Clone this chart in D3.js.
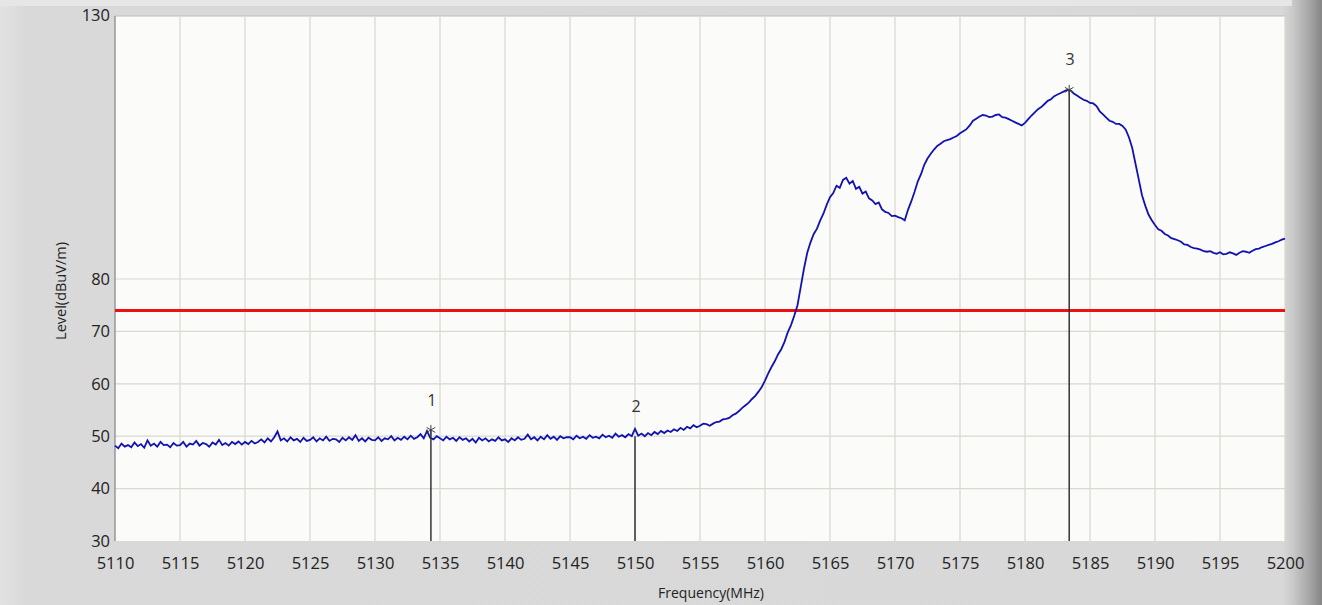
<!DOCTYPE html>
<html><head><meta charset="utf-8">
<script src="https://cdn.jsdelivr.net/npm/d3@7"></script>
<style>html,body{margin:0;padding:0;background:#d9d9d9;}svg{display:block;}</style>
</head><body>
<script>
// ---- data (level in dBuV/m every 0.25 MHz from 5110 to 5200) ----
const freqStart = 5110, freqStep = 0.25;
const levels = [
48.2,47.7,48.6,48.0,48.3,47.9,48.8,48.1,48.5,47.8,49.2,48.2,48.6,48.0,48.9,48.3,48.4,47.9,48.7,48.2,
48.3,48.9,48.0,48.6,48.4,49.1,48.2,48.7,48.5,48.0,48.8,48.4,49.3,48.3,48.7,48.2,48.9,48.5,49.0,48.4,
48.9,48.5,49.1,48.6,48.9,49.4,48.8,49.6,49.0,49.8,50.9,49.2,49.6,49.0,49.8,49.2,49.5,48.9,49.7,49.1,
49.3,49.8,49.0,49.6,49.2,49.9,49.1,49.5,49.4,48.9,49.7,49.2,49.8,49.3,50.2,49.1,49.6,49.0,49.7,49.3,
49.2,49.8,49.1,49.6,49.4,50.0,49.2,49.7,49.3,49.9,49.4,50.1,49.5,49.8,50.4,49.6,51.0,49.7,49.4,50.0,
49.6,49.2,49.9,49.4,49.7,49.1,49.8,49.3,49.6,49.0,49.5,48.8,49.7,49.2,49.6,49.0,49.4,49.1,49.8,49.2,
49.4,48.9,49.6,49.2,49.8,49.3,49.5,50.3,49.4,49.8,49.2,49.9,49.4,50.2,49.5,49.9,49.3,50.0,49.6,49.8,
49.8,49.4,50.1,49.6,49.9,49.5,50.2,49.7,49.9,49.6,50.3,49.8,50.1,49.7,50.5,49.9,50.2,49.8,50.4,50.0,
51.4,50.1,50.5,50.0,50.6,50.2,50.8,50.4,51.0,50.6,51.1,50.8,51.3,51.0,51.6,51.2,51.8,51.5,52.1,51.7,
52.0,52.4,52.3,52.0,52.4,52.7,52.8,53.2,53.3,53.5,54.0,54.3,54.8,55.4,55.9,56.4,57.1,57.7,58.5,59.4,
60.6,62.0,63.2,64.3,65.6,66.6,68.0,69.8,71.2,73.0,75.0,78.5,82.0,85.0,87.0,88.6,89.6,91.2,92.5,94.2,
95.6,96.4,97.8,97.4,98.9,99.3,98.2,98.7,97.2,97.6,96.3,96.7,95.4,95.0,94.3,94.6,93.3,92.8,92.6,92.0,
92.1,91.8,91.6,91.2,93.2,94.8,96.6,98.6,100.0,101.8,103.0,103.9,104.7,105.4,105.8,106.3,106.5,106.7,107.0,107.3,
107.8,108.2,108.6,109.3,110.2,110.6,111.0,111.3,111.2,110.9,111.0,111.3,111.4,110.9,110.8,110.5,110.2,109.9,109.6,109.3,
109.8,110.5,111.2,111.8,112.4,112.8,113.4,114.0,114.3,114.9,115.2,115.5,115.8,116.1,116.0,115.4,115.0,114.6,114.2,114.0,
113.6,113.5,113.0,112.0,111.4,110.8,110.2,110.0,109.6,109.6,109.2,108.5,107.0,105.0,102.0,99.0,96.0,94.0,92.3,91.2,
90.3,89.5,89.2,88.6,88.3,87.8,87.6,87.4,87.1,86.6,86.5,86.1,85.9,85.8,85.6,85.3,85.2,85.3,85.0,84.8,
85.1,84.7,84.8,85.1,84.9,84.6,85.0,85.3,85.2,85.0,85.4,85.7,85.8,86.1,86.3,86.5,86.7,87.0,87.2,87.5,
87.7];
const limitLevel = 74;
const markerLabels = ["1","2","3"];
const markerFreqs = [5134.3, 5150.0, 5183.4];
const markerLevels = [51.2, 50.0, 116.1];
const markerStars = [true, false, true];
const xTicks = d3.range(5110, 5201, 5);
const yTicks = [30,40,50,60,70,80,130];
const yGrid = [40,50,60,70,80];
const xTitle = "Frequency(MHz)";
const yTitle = "Level(dBuV/m)";

// ---- layout ----
const W = 1322, H = 605;
const L = 115, R = 1285, T = 17, B = 541;
const svg = d3.select("body").append("svg").attr("width", W).attr("height", H);
const defs = svg.append("defs");
const g1 = defs.append("linearGradient").attr("id","bg").attr("x1",0).attr("x2",1).attr("y1",0).attr("y2",0);
g1.append("stop").attr("offset","0").attr("stop-color","#e2e2e2");
g1.append("stop").attr("offset","0.02").attr("stop-color","#d9d9d9");
g1.append("stop").attr("offset","0.97").attr("stop-color","#d8d8d8");
g1.append("stop").attr("offset","0.978").attr("stop-color","#c9c9c9");
g1.append("stop").attr("offset","0.99").attr("stop-color","#a8a8a8");
g1.append("stop").attr("offset","1").attr("stop-color","#858585");
svg.append("rect").attr("width",W).attr("height",H).attr("fill","url(#bg)");
svg.append("rect").attr("x",0).attr("y",0).attr("width",1292).attr("height",6).attr("fill","#e6e6e6");

const x = d3.scaleLinear().domain([5110,5200]).range([L,R]);
const y = d3.scaleLinear().domain([30,130]).range([B,T]);

svg.append("rect").attr("x",L).attr("y",T-1).attr("width",R-L).attr("height",B-T+1).attr("fill","#fbfbf9");

// grid
svg.append("g").selectAll("line").data(xTicks.slice(1)).join("line")
  .attr("x1",d=>x(d)).attr("x2",d=>x(d)).attr("y1",T).attr("y2",B)
  .attr("stroke","#d9d9cf").attr("stroke-width",1.2);
svg.append("g").selectAll("line").data(yGrid).join("line")
  .attr("x1",L).attr("x2",R).attr("y1",d=>y(d)).attr("y2",d=>y(d))
  .attr("stroke","#d9d9cf").attr("stroke-width",1.2);

// frame
svg.append("line").attr("x1",L).attr("x2",R).attr("y1",T-1).attr("y2",T-1).attr("stroke","#bdbdbd");
svg.append("line").attr("x1",L).attr("x2",L).attr("y1",T-1).attr("y2",B).attr("stroke","#8a8a8a").attr("stroke-width",1.3);

// axes
const xAxis = d3.axisBottom(x).tickValues(xTicks).tickSize(0).tickPadding(16).tickFormat(d3.format("d"));
const xa = svg.append("g").attr("transform",`translate(0,${B})`).call(xAxis);
const yAxis = d3.axisLeft(y).tickValues(yTicks).tickSize(0).tickPadding(5).tickFormat(d3.format("d"));
const ya = svg.append("g").attr("transform",`translate(${L},0)`).call(yAxis);
[xa,ya].forEach(a=>{
  a.select(".domain").remove();
  a.selectAll("text").attr("font-family","'Open Sans', sans-serif").attr("font-size",16.5).attr("fill","#222");
});
ya.selectAll(".tick").filter(d=>d===130).select("text").attr("dy","0.2em");

svg.append("text").attr("x",711).attr("y",598).attr("text-anchor","middle")
  .attr("font-family","'Open Sans', sans-serif").attr("font-size",14).attr("fill","#222").text(xTitle);
svg.append("text").attr("transform",`translate(66,${291}) rotate(-90)`).attr("text-anchor","middle")
  .attr("font-family","'Open Sans', sans-serif").attr("font-size",14.5).attr("fill","#222").text(yTitle);

// limit line
svg.append("line").attr("x1",L).attr("x2",R).attr("y1",y(limitLevel)).attr("y2",y(limitLevel))
  .attr("stroke","#ee1111").attr("stroke-width",3);

// trace
const pts = levels.map((v,i)=>[freqStart+i*freqStep, v]);
const line = d3.line().x(d=>x(d[0])).y(d=>y(d[1]));
svg.append("path").datum(pts).attr("d",line).attr("fill","none")
  .attr("stroke","#1212b0").attr("stroke-width",1.8).attr("stroke-linejoin","miter");

// markers
const mk = markerLabels.map((t,i)=>({t, f:markerFreqs[i], v:markerLevels[i], s:markerStars[i]}));
const mg = svg.append("g");
mg.selectAll("line").data(mk).join("line")
  .attr("x1",d=>x(d.f)).attr("x2",d=>x(d.f)).attr("y1",B).attr("y2",d=>y(d.v))
  .attr("stroke","#333").attr("stroke-width",1.5);
mg.selectAll("path").data(mk.filter(d=>d.s)).join("path")
  .attr("transform",d=>`translate(${x(d.f)},${y(d.v)})`)
  .attr("d",d3.symbol(d3.symbolAsterisk,70)).attr("fill","none").attr("stroke","#444").attr("stroke-width",1);
mg.selectAll("text").data(mk).join("text")
  .attr("x",d=>x(d.f)+1).attr("y",d=>y(d.v)-30).attr("dy","0.35em").attr("text-anchor","middle")
  .attr("font-family","'Open Sans', sans-serif").attr("font-size",16).attr("fill","#333").text(d=>d.t);
</script>
</body></html>
